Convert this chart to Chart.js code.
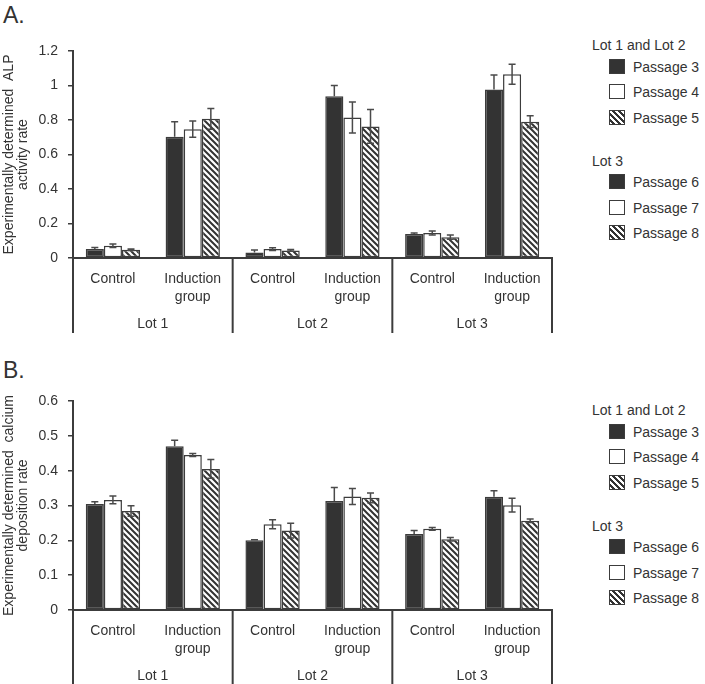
<!DOCTYPE html>
<html>
<head>
<meta charset="utf-8">
<script src="https://cdn.jsdelivr.net/npm/chart.js@4.4.1/dist/chart.umd.min.js"></script>
<style>
  body { margin: 0; background: #fff; font-family: "Liberation Sans", Arial, sans-serif; color: #333; }
  #wrap { position: relative; width: 705px; height: 684px; overflow: hidden; }
  canvas { position: absolute; left: 0; }
  .panel { position: absolute; left: 3px; font-size: 23px; line-height: 26px; }
  .legend-item { position: absolute; font-size: 14px; line-height: 16px; white-space: nowrap; }
  .sw { position: absolute; width: 16px; height: 15px; box-sizing: border-box; border: 1.5px solid #3c3c3c; }
  .sw.dark { background: #333; }
  .sw.white { background: #fff; }
  .sw.hatch { background: repeating-linear-gradient(45deg, #fff 0 2px, #333 2px 4.2px); }
</style>
</head>
<body>
<div id="wrap">
  <div class="panel" style="top:2px">A.</div>
  <div class="panel" style="top:357px">B.</div>
  <canvas id="chartA" width="565" height="338" style="top:0"></canvas>
  <canvas id="chartB" width="565" height="340" style="top:350px"></canvas>
</div>
<script>
// categories
const lots = ['Lot 1', 'Lot 2', 'Lot 3'];
const groups = ['Control', ['Induction', 'group']];
const passages = ['Passage 3', 'Passage 4', 'Passage 5'];
const passagesLot3 = ['Passage 6', 'Passage 7', 'Passage 8'];

// A. ALP activity rate (order: Lot1 Ctrl, Lot1 Ind, Lot2 Ctrl, Lot2 Ind, Lot3 Ctrl, Lot3 Ind)
const alpFirst  = [0.052, 0.703, 0.032, 0.938, 0.139, 0.977];
const alpSecond = [0.071, 0.747, 0.052, 0.815, 0.145, 1.065];
const alpThird  = [0.048, 0.807, 0.044, 0.763, 0.121, 0.790];
const alpErrFirst  = [0.009, 0.087, 0.014, 0.062, 0.006, 0.084];
const alpErrSecond = [0.010, 0.047, 0.008, 0.090, 0.012, 0.058];
const alpErrThird  = [0.004, 0.060, 0.005, 0.098, 0.012, 0.034];
const alpTicks = ['0', '0.2', '0.4', '0.6', '0.8', '1', '1.2'];

// B. calcium deposition rate
const caFirst  = [0.304, 0.470, 0.200, 0.313, 0.218, 0.325];
const caSecond = [0.316, 0.445, 0.246, 0.326, 0.233, 0.301];
const caThird  = [0.284, 0.405, 0.228, 0.322, 0.203, 0.256];
const caErrFirst  = [0.007, 0.017, 0.002, 0.039, 0.010, 0.017];
const caErrSecond = [0.011, 0.004, 0.013, 0.023, 0.004, 0.020];
const caErrThird  = [0.015, 0.027, 0.021, 0.014, 0.005, 0.005];
const caTicks = ['0', '0.1', '0.2', '0.3', '0.4', '0.5', '0.6'];

Chart.defaults.font.family = '"Liberation Sans", Arial, sans-serif';
Chart.defaults.color = '#333';

const ink = '#3c3c3c';

function hatchPattern() {
  const c = document.createElement('canvas');
  c.width = c.height = 6;
  const g = c.getContext('2d');
  g.fillStyle = '#fff';
  g.fillRect(0, 0, 6, 6);
  g.strokeStyle = '#333';
  g.lineWidth = 2;
  g.beginPath();
  g.moveTo(-1, -1); g.lineTo(7, 7);
  g.moveTo(-1, 5); g.lineTo(1, 7);
  g.moveTo(5, -1); g.lineTo(7, 1);
  g.stroke();
  return g.createPattern(c, 'repeat');
}

// error bars, drawn on top of the bars from each dataset's errors
// (lower half is hidden inside the dark bars, as in the original)
const errorBars = {
  id: 'errorBars',
  afterDatasetsDraw(chart) {
    const ctx = chart.ctx, y = chart.scales.y;
    ctx.save();
    ctx.strokeStyle = '#4a4a4a';
    ctx.lineWidth = 1.5;
    chart.data.datasets.forEach((ds, i) => {
      chart.getDatasetMeta(i).data.forEach((bar, j) => {
        const v = ds.data[j], e = ds.errors[j];
        const top = y.getPixelForValue(v + e);
        const bot = ds.dark ? y.getPixelForValue(v) : y.getPixelForValue(v - e);
        ctx.beginPath();
        ctx.moveTo(bar.x, top); ctx.lineTo(bar.x, bot);
        ctx.moveTo(bar.x - 3.5, top); ctx.lineTo(bar.x + 3.5, top);
        if (!ds.dark) { ctx.moveTo(bar.x - 3.5, bot); ctx.lineTo(bar.x + 3.5, bot); }
        ctx.stroke();
      });
    });
    ctx.restore();
  }
};

// lot separators under the axis and lot names
const lotRow = {
  id: 'lotRow',
  afterDraw(chart) {
    const ctx = chart.ctx, x = chart.scales.x;
    const base = x.top;
    const per = groups.length;
    const xs = [x.left];
    for (let k = 1; k < lots.length; k++) {
      xs.push((x.getPixelForValue(k * per - 1) + x.getPixelForValue(k * per)) / 2);
    }
    xs.push(x.right);
    ctx.save();
    ctx.strokeStyle = ink;
    ctx.lineWidth = 2;
    xs.forEach(px => {
      ctx.beginPath();
      ctx.moveTo(px, base);
      ctx.lineTo(px, base + 75);
      ctx.stroke();
    });
    ctx.fillStyle = '#333';
    ctx.font = '14px "Liberation Sans", Arial, sans-serif';
    ctx.textAlign = 'center';
    ctx.textBaseline = 'middle';
    lots.forEach((name, k) => {
      const cx = (xs[k] + xs[k + 1]) / 2;
      ctx.fillText(name, cx, base + 66);
    });
    ctx.restore();
  }
};

function makeChart(id, series, errs, max, step, tickLabels, title) {
  const fills = ['#333', '#fff', hatchPattern()];
  return new Chart(document.getElementById(id), {
    type: 'bar',
    data: {
      labels: lots.flatMap(() => groups),
      datasets: series.map((s, i) => ({
        label: passages[i],
        data: s,
        errors: errs[i],
        dark: i === 0,
        backgroundColor: fills[i],
        borderColor: ink,
        borderWidth: 1.5,
        borderSkipped: false,
        categoryPercentage: 0.68,
        barPercentage: 1
      }))
    },
    options: {
      responsive: false,
      animation: false,
      layout: { padding: { top: 51, right: 13, left: 0, bottom: 0 } },
      plugins: { legend: { display: false }, tooltip: { enabled: false } },
      scales: {
        x: {
          grid: { display: false, drawTicks: false },
          border: { display: true, color: ink, width: 2 },
          ticks: { font: { size: 14, lineHeight: 1.29 }, padding: 12, maxRotation: 0, autoSkip: false },
          afterFit: s => { s.height = 80; }
        },
        y: {
          min: 0,
          max: max,
          ticks: {
            stepSize: step,
            padding: 10,
            font: { size: 14 },
            callback: (v, i) => tickLabels[i]
          },
          grid: { drawOnChartArea: false, drawTicks: true, tickLength: 5, color: ink, lineWidth: 1.5 },
          border: { color: ink, width: 2 },
          title: { display: true, text: title, font: { size: 14, lineHeight: 1 }, padding: { top: 2, bottom: 0 } },
          afterFit: s => { s.width = 73; }
        }
      }
    },
    plugins: [errorBars, lotRow]
  });
}

makeChart('chartA', [alpFirst, alpSecond, alpThird], [alpErrFirst, alpErrSecond, alpErrThird],
  1.2, 0.2, alpTicks, ['Experimentally determined  ALP', 'activity rate']);
makeChart('chartB', [caFirst, caSecond, caThird], [caErrFirst, caErrSecond, caErrThird],
  0.6, 0.1, caTicks, ['Experimentally determined  calcium', 'deposition rate']);

// legends (same layout for both panels)
function legend(top) {
  const wrap = document.getElementById('wrap');
  const kinds = ['dark', 'white', 'hatch'];
  const blocks = [['Lot 1 and Lot 2', passages], ['Lot 3', passagesLot3]];
  let y = top;
  blocks.forEach(([head, items]) => {
    const h = document.createElement('div');
    h.className = 'legend-item';
    h.style.left = '592px';
    h.style.top = (y - 8) + 'px';
    h.textContent = head;
    wrap.appendChild(h);
    y += 21.5;
    items.forEach((name, k) => {
      const sw = document.createElement('div');
      sw.className = 'sw ' + kinds[k];
      sw.style.left = '609px';
      sw.style.top = (y - 8) + 'px';
      wrap.appendChild(sw);
      const t = document.createElement('div');
      t.className = 'legend-item';
      t.style.left = '633px';
      t.style.top = (y - 8) + 'px';
      t.textContent = name;
      wrap.appendChild(t);
      y += 25.6;
    });
    y += 43 - 25.6;
  });
}
legend(45);
legend(410);
</script>
</body>
</html>
